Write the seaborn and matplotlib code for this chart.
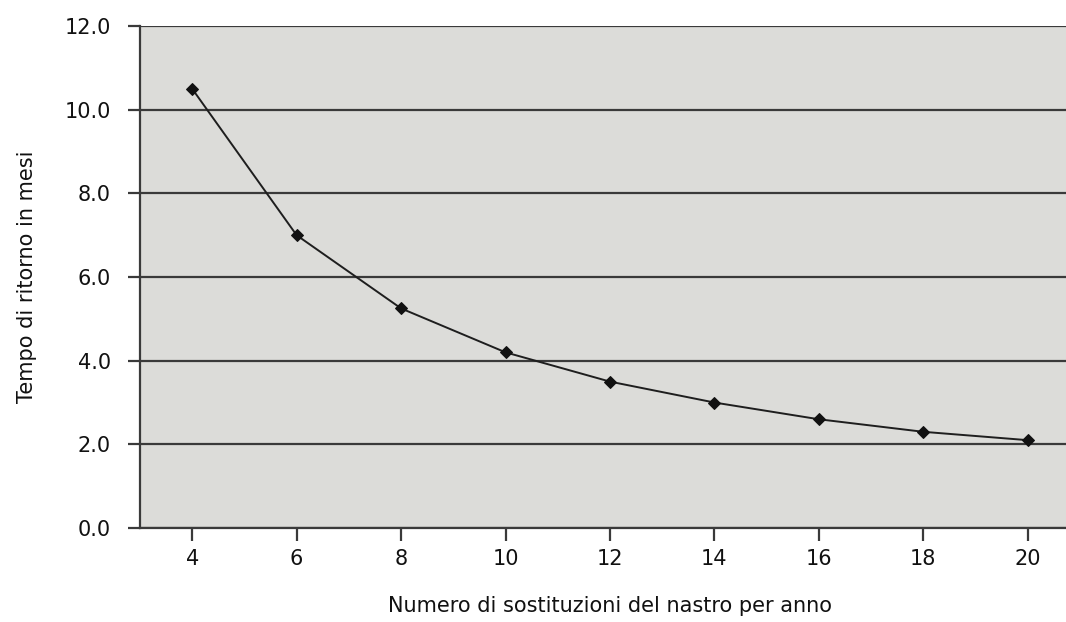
import pandas as pd
import matplotlib
matplotlib.use('Agg')
import matplotlib.pyplot as plt
import seaborn as sns

# Data
sostituzioni = [4, 6, 8, 10, 12, 14, 16, 18, 20]
tempo_ritorno = [10.5, 7.0, 5.25, 4.2, 3.5, 3.0, 2.6, 2.3, 2.1]
y_ticks = [0, 2, 4, 6, 8, 10, 12]

df = pd.DataFrame({'x': sostituzioni, 'y': tempo_ritorno})

sns.set_style('white')
plt.rcParams['font.family'] = ['DejaVu Sans']

fig = plt.figure(figsize=(10.66, 6.22), dpi=100)
ax = fig.add_axes([0.1313, 0.1511, 0.8818, 0.807])
ax.set_facecolor('#dcdcd9')

ax.set_axisbelow(True)
for yv in y_ticks:
    ax.axhline(yv, color='#3a3a3a', linewidth=1.6, zorder=1)

sns.lineplot(data=df, x='x', y='y', ax=ax, color='#1e1e1e', linewidth=1.4,
             marker='D', markersize=6, markeredgecolor='#111111',
             markerfacecolor='#111111', zorder=3)

ax.set_xlim(3, 21)
ax.set_ylim(0, 12)
ax.set_xticks(sostituzioni)
ax.set_xticklabels([str(v) for v in sostituzioni], fontsize=15)
ax.set_yticks(y_ticks)
ax.set_yticklabels([f'{v:.1f}' for v in y_ticks], fontsize=15)

for side in ['top', 'right']:
    ax.spines[side].set_visible(False)
for side in ['left', 'bottom']:
    ax.spines[side].set_color('#3a3a3a')
    ax.spines[side].set_linewidth(1.6)

ax.tick_params(axis='y', length=9, width=1.6, color='#3a3a3a', pad=12, left=True)
ax.tick_params(axis='x', length=9, width=1.6, color='#3a3a3a', pad=6, bottom=True)
ax.tick_params(labelcolor='#111111')

ax.set_xlabel('Numero di sostituzioni del nastro per anno', fontsize=15,
              color='#111111')
ax.xaxis.set_label_coords(0.5, -0.135)
ax.set_ylabel('Tempo di ritorno in mesi', fontsize=15, color='#111111')
ax.yaxis.set_label_coords(-0.11, 0.5)

fig.savefig('out.png', dpi=100, facecolor='white')
